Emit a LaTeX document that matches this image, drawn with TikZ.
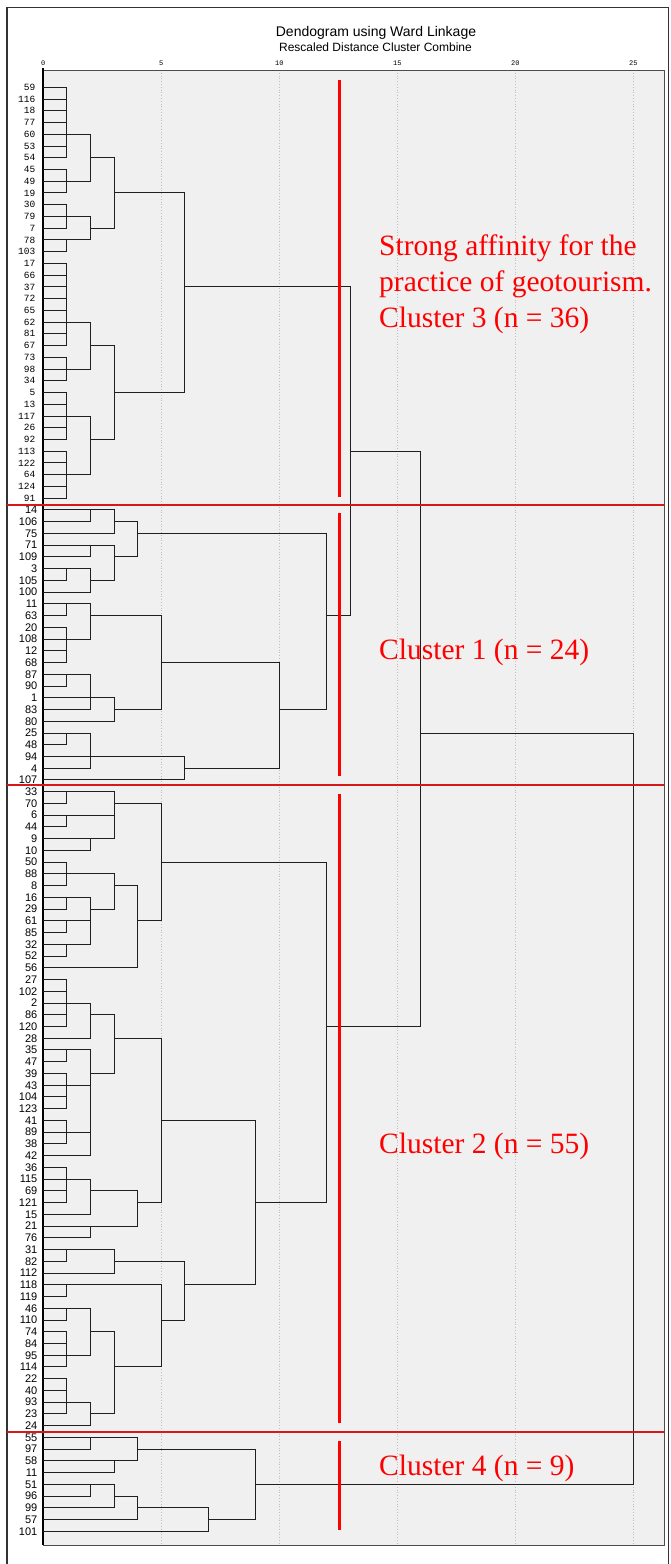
\documentclass[tikz,border=0pt]{standalone}
\usepackage{fontspec}
\setmainfont{Liberation Serif}
\newfontfamily\sansf{Liberation Sans}
\newfontfamily\monof{Liberation Mono}
\definecolor{plotbg}{RGB}{240,240,240}
\definecolor{annred}{RGB}{255,0,0}
\definecolor{sepred}{RGB}{214,24,24}
\definecolor{gridc}{RGB}{190,190,190}
\tikzset{
  tree/.style={draw=black!88, line width=1pt, line cap=rect},
  leafmono/.style={font=\monof\fontsize{9.5}{9.5}\selectfont, anchor=east, inner sep=0pt},
  leafsans/.style={font=\sansf\fontsize{11}{11}\selectfont, anchor=east, inner sep=0pt},
  ticklab/.style={font=\monof\fontsize{7}{7}\selectfont, inner sep=0pt},
  gridline/.style={draw=gridc, dotted, line width=0.8pt},
  redv/.style={draw=annred, line width=3pt},
  redh/.style={draw=sepred, line width=1.8pt},
  redtext/.style={text=annred, font=\fontsize{29.5}{35}\selectfont, anchor=west, inner sep=0pt},
}
\newcommand\dmerge[4]{%
  \coordinate (#1) at ({43.3+23.6*#2},{87.3+11.74*(#3-1)});
  \foreach \ch [count=\k] in {#4} {
    \draw[tree] (\ch) -- (\ch -| #1);
    \ifnum\k=1 \xdef\mfirst{\ch}\fi
    \xdef\mlast{\ch}
  }
  \draw[tree] (\mfirst -| #1) -- (\mlast -| #1);
}
\begin{document}
\begin{tikzpicture}[x=1pt,y=-1pt]
\useasboundingbox (0,0) rectangle (670,1564);
\fill[white] (0,0) rectangle (670,1564);
% outer frame
\draw[black!80, line width=1.6pt] (6.7,1580) -- (6.7,7.3) -- (668.5,7.3) -- (668.5,1580);
% plot area
\fill[plotbg] (43.3,70) rectangle (664,1545);
\foreach \u in {5,10,15,20,25} \draw[gridline] ({43.3+23.6*\u},70) -- ({43.3+23.6*\u},1545);
\draw[black!70, line width=1pt] (43.3,70) -- (664,70) -- (664,1545) -- (43.3,1545);
\draw[black, line width=1.8pt] (43.3,68) -- (43.3,1545);
% titles
\node[font=\sansf\fontsize{14}{14}\selectfont, anchor=base, inner sep=0pt] (title) at (376,36.7) {Dendogram using Ward Linkage};
\node[font=\sansf\fontsize{12}{12}\selectfont, anchor=base, inner sep=0pt] (subtitle) at (375.5,51.7) {Rescaled Distance Cluster Combine};
\foreach \u in {0,5,10,15,20,25} \node[ticklab] (t\u) at ({43.3+23.6*\u},63.5) {\u};
% leaves
\foreach \lab [count=\r] in {59,116,18,77,60,53,54,45,49,19,30,79,7,78,103,17,66,37,72,65,62,81,67,73,98,34,5,13,117,26,92,113,122,64,124,91,
14,106,75,71,109,3,105,100,11,63,20,108,12,68,87,90,1,83,80,25,48,94,4,107,
33,70,6,44,9,10,50,88,8,16,29,61,85,32,52,56,27,102,2,86,120,28,35,47,39,43,104,123,41,89,38,42,36,115,69,121,15,21,76,31,82,112,118,119,46,110,74,84,95,114,22,40,93,23,24,
55,97,58,11,51,96,99,57,101} {
  \pgfmathsetmacro\yy{87.3+11.74*(\r-1)}
  \coordinate (L\r) at (43.3,\yy);
  \ifnum\r<37
    \node[leafmono] (n\r) at (35.5,\yy) {\lab};
  \else
    \node[leafsans] (n\r) at (37.5,\yy) {\lab};
  \fi
}
% cluster 3
\dmerge{a1}{1}{5}{L1,L2,L3,L4,L5,L6,L7}
\dmerge{a2}{1}{9}{L8,L9,L10}
\dmerge{a3}{2}{7}{a1,a2}
\dmerge{a4}{1}{12}{L11,L12,L13}
\dmerge{a5}{1}{14}{L14,L15}
\dmerge{a6}{2}{13}{a4,a5}
\dmerge{a7}{3}{10}{a3,a6}
\dmerge{a8}{1}{21}{L16,L17,L18,L19,L20,L21,L22,L23}
\dmerge{a9}{1}{25}{L24,L25,L26}
\dmerge{a10}{2}{23}{a8,a9}
\dmerge{a11}{1}{29}{L27,L28,L29,L30,L31}
\dmerge{a12}{1}{34}{L32,L33,L34,L35,L36}
\dmerge{a13}{2}{31}{a11,a12}
\dmerge{a14}{3}{27}{a10,a13}
\dmerge{a15}{6}{18}{a7,a14}
% cluster 1
\dmerge{b1}{2}{37}{L37,L38}
\dmerge{b2}{3}{38}{b1,L39}
\dmerge{b3}{2}{40}{L40,L41}
\dmerge{b4}{1}{42}{L42,L43}
\dmerge{b5}{2}{43}{b4,L44}
\dmerge{b6}{3}{41}{b3,b5}
\dmerge{b7}{4}{39}{b2,b6}
\dmerge{b8}{1}{45}{L45,L46}
\dmerge{b9}{1}{48}{L47,L48,L49,L50}
\dmerge{b10}{2}{46}{b8,b9}
\dmerge{b11}{1}{51}{L51,L52}
\dmerge{b12}{2}{53}{b11,L53,L54}
\dmerge{b13}{3}{54}{b12,L55}
\dmerge{b14}{5}{50}{b10,b13}
\dmerge{b15}{1}{56}{L56,L57}
\dmerge{b16}{2}{58}{b15,L58,L59}
\dmerge{b17}{6}{59}{b16,L60}
\dmerge{b18}{10}{54}{b14,b17}
\dmerge{b19}{12}{46}{b7,b18}
\dmerge{c1}{13}{32}{a15,b19}
% cluster 2
\dmerge{d1}{1}{61}{L61,L62}
\dmerge{d2}{1}{63}{L63,L64}
\dmerge{d3}{2}{65}{L65,L66}
\dmerge{d4}{3}{62}{d1,d2,d3}
\dmerge{d5}{1}{68}{L67,L68,L69}
\dmerge{d6}{1}{70}{L70,L71}
\dmerge{d7}{1}{72}{L72,L73}
\dmerge{d8}{1}{74}{L74,L75}
\dmerge{d9}{2}{71}{d6,d7,d8}
\dmerge{d10}{3}{69}{d5,d9}
\dmerge{d11}{4}{72}{d10,L76}
\dmerge{d12}{5}{67}{d4,d11}
\dmerge{d13}{1}{79}{L77,L78,L79,L80,L81}
\dmerge{d14}{2}{80}{d13,L82}
\dmerge{d15}{1}{83}{L83,L84}
\dmerge{d16}{1}{86}{L85,L86,L87,L88}
\dmerge{d17}{1}{90}{L89,L90,L91}
\dmerge{d18}{2}{85}{d15,d16,d17,L92}
\dmerge{d19}{3}{82}{d14,d18}
\dmerge{d20}{1}{94}{L93,L94,L95,L96}
\dmerge{d21}{2}{95}{d20,L97}
\dmerge{d22}{2}{98}{L98,L99}
\dmerge{d23}{4}{96}{d21,d22}
\dmerge{d24}{5}{89}{d19,d23}
\dmerge{d25}{1}{100}{L100,L101}
\dmerge{d26}{3}{101}{d25,L102}
\dmerge{d27}{1}{103}{L103,L104}
\dmerge{d28}{1}{105}{L105,L106}
\dmerge{d29}{1}{109}{L107,L108,L109,L110}
\dmerge{d30}{2}{107}{d28,d29}
\dmerge{d31}{1}{113}{L111,L112,L113,L114}
\dmerge{d32}{2}{114}{d31,L115}
\dmerge{d33}{3}{110}{d30,d32}
\dmerge{d34}{5}{106}{d27,d33}
\dmerge{d35}{6}{103}{d26,d34}
\dmerge{d36}{9}{96}{d24,d35}
\dmerge{d37}{12}{81}{d12,d36}
\dmerge{e1}{16}{56}{c1,d37}
% cluster 4
\dmerge{f1}{2}{116}{L116,L117}
\dmerge{f2}{3}{118}{L118,L119}
\dmerge{f3}{4}{117}{f1,f2}
\dmerge{f4}{2}{120}{L120,L121}
\dmerge{f5}{3}{121}{f4,L122}
\dmerge{f6}{4}{122}{f5,L123}
\dmerge{f7}{7}{123}{f6,L124}
\dmerge{f8}{9}{120}{f3,f7}
\dmerge{root}{25}{88}{e1,f8}
% red separators
\draw[redh] (7,505) -- (664,505);
\draw[redh] (7,785.3) -- (664,785.3);
\draw[redh] (7,1432.3) -- (664,1432.3);
\draw[redv] (339,80) -- (339,497);
\draw[redv] (339,513) -- (339,776);
\draw[redv] (339,794) -- (339,1423);
\draw[redv] (339,1441) -- (339,1530);
% red annotations
\node[redtext] (s1) at (379,248) {Strong affinity for the};
\node[redtext] (s2) at (379,284) {practice of geotourism.};
\node[redtext] (s3) at (379,320) {Cluster 3 (n = 36)};
\node[redtext] (k1) at (379,652) {Cluster 1 (n = 24)};
\node[redtext] (k2) at (379,1146) {Cluster 2 (n = 55)};
\node[redtext] (k4) at (379,1468) {Cluster 4 (n = 9)};
\end{tikzpicture}
\end{document}
